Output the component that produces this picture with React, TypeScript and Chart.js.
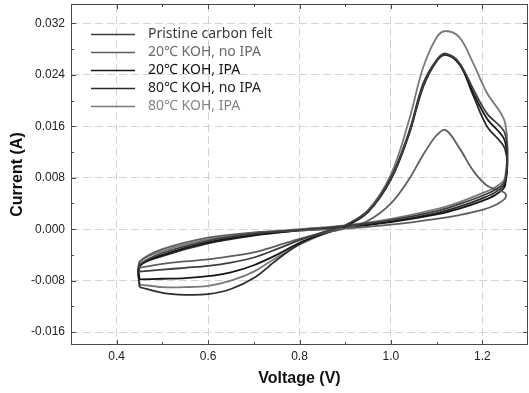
import React, { useEffect, useRef } from "react";
import { Chart, registerables } from "chart.js";

Chart.register(...registerables);

// ---- data ----
const seriesLabels = [
  "Pristine carbon felt",
  "20\u2103 KOH, no IPA",
  "20\u2103 KOH, IPA",
  "80\u2103 KOH, no IPA",
  "80\u2103 KOH, IPA",
];
const seriesColors = ["#3e3e3e", "#5e5e5e", "#161616", "#2c2c2c", "#7a7a7a"];
const legendTextColors = ["#3a3a3a", "#6a6a6a", "#111111", "#222222", "#858585"];

// anodic sweep (0.45 V -> 1.25 V)
const forwardVoltage = [0.45, 0.5, 0.55, 0.6, 0.65, 0.7, 0.75, 0.8, 0.85, 0.9, 0.95, 1.0, 1.04, 1.07, 1.1, 1.12, 1.15, 1.18, 1.21, 1.25];
// return sweep (1.25 V -> 0.45 V)
const reverseVoltage = [1.25, 1.23, 1.2, 1.15, 1.1, 1.0, 0.9, 0.8, 0.7, 0.6, 0.5, 0.45];

const pristineForward = [-0.0066, -0.0063, -0.006, -0.0057, -0.0052, -0.0044, -0.0031, -0.0017, -0.0005, 0.0006, 0.0028, 0.0078, 0.015, 0.0222, 0.0262, 0.0272, 0.0258, 0.0218, 0.018, 0.0148];
const pristineReverse = [0.0076, 0.0062, 0.0052, 0.0039, 0.0028, 0.0014, 0.0005, -0.0001, -0.0007, -0.0018, -0.0037, -0.0055];

const koh20NoIpaForward = [-0.006, -0.0054, -0.005, -0.0047, -0.0042, -0.0036, -0.0026, -0.0015, -0.0006, 0.0001, 0.0013, 0.004, 0.0078, 0.0115, 0.0146, 0.0154, 0.0126, 0.0091, 0.0068, 0.0056];
const koh20NoIpaReverse = [0.0048, 0.0038, 0.003, 0.0022, 0.0016, 0.0007, 0.0001, -0.0002, -0.0005, -0.0013, -0.0031, -0.005];

const koh20IpaForward = [-0.0078, -0.0077, -0.0076, -0.0073, -0.0067, -0.0056, -0.004, -0.0021, -0.0007, 0.0005, 0.0027, 0.0077, 0.0148, 0.022, 0.0261, 0.0271, 0.0256, 0.0212, 0.0172, 0.0136];
const koh20IpaReverse = [0.0068, 0.0054, 0.0044, 0.0032, 0.0023, 0.0011, 0.0003, -0.0002, -0.0009, -0.002, -0.004, -0.0057];

const koh80NoIpaForward = [-0.009, -0.0099, -0.0102, -0.0101, -0.0093, -0.0076, -0.0048, -0.0023, -0.0008, 0.0004, 0.0027, 0.008, 0.0152, 0.0225, 0.0263, 0.0273, 0.0258, 0.0208, 0.016, 0.0124];
const koh80NoIpaReverse = [0.0072, 0.0058, 0.0048, 0.0035, 0.0025, 0.0012, 0.0004, -0.0002, -0.001, -0.0022, -0.0042, -0.0058];

const koh80IpaForward = [-0.0086, -0.009, -0.009, -0.0088, -0.008, -0.0066, -0.0044, -0.0024, -0.0008, 0.0006, 0.003, 0.0085, 0.017, 0.025, 0.0298, 0.0308, 0.0298, 0.0258, 0.0212, 0.0165];
const koh80IpaReverse = [0.008, 0.0066, 0.0056, 0.0042, 0.0031, 0.0016, 0.0006, 0.0, -0.0006, -0.0016, -0.0034, -0.0052];

const forwardSets = [pristineForward, koh20NoIpaForward, koh20IpaForward, koh80NoIpaForward, koh80IpaForward];
const reverseSets = [pristineReverse, koh20NoIpaReverse, koh20IpaReverse, koh80NoIpaReverse, koh80IpaReverse];

// ---- axes ----
const xMajorTicks = [0.4, 0.6, 0.8, 1.0, 1.2];
const xMinorTicks = [0.5, 0.7, 0.9, 1.1];
const yMajorTicks = [-0.016, -0.008, 0.0, 0.008, 0.016, 0.024, 0.032];
const yMinorTicks = [-0.012, -0.004, 0.004, 0.012, 0.02, 0.028];

function buildLoop(fwd: number[], rev: number[]) {
  const pts: { x: number; y: number }[] = [];
  forwardVoltage.forEach((v, i) => pts.push({ x: v, y: fwd[i] }));
  reverseVoltage.forEach((v, i) => pts.push({ x: v, y: rev[i] }));
  pts.push({ x: forwardVoltage[0], y: fwd[0] });
  return pts;
}

const framePlugin = {
  id: "frameAndLegend",
  afterDraw(chart: any) {
    const { ctx, chartArea, scales } = chart;
    const { left, right, top, bottom } = chartArea;
    const xs = scales.x;
    const ys = scales.y;
    ctx.save();
    ctx.strokeStyle = "#4a4a4a";
    ctx.lineWidth = 1;
    ctx.setLineDash([]);
    ctx.strokeRect(Math.round(left) + 0.5, Math.round(top) + 0.5, Math.round(right - left) - 1, Math.round(bottom - top) - 1);
    const tick = (x1: number, y1: number, x2: number, y2: number) => {
      ctx.beginPath();
      ctx.moveTo(x1, y1);
      ctx.lineTo(x2, y2);
      ctx.stroke();
    };
    const drawX = (vals: number[], len: number) => {
      vals.forEach((v) => {
        const px = Math.round(xs.getPixelForValue(v)) + 0.5;
        tick(px, bottom, px, bottom - len);
        tick(px, top, px, top + len);
      });
    };
    const drawY = (vals: number[], len: number) => {
      vals.forEach((v) => {
        const py = Math.round(ys.getPixelForValue(v)) + 0.5;
        tick(left, py, left + len, py);
        tick(right, py, right - len, py);
      });
    };
    drawX(xMajorTicks, 5);
    drawX(xMinorTicks, 3);
    drawY(yMajorTicks, 5);
    drawY(yMinorTicks, 3);

    // legend
    ctx.font = '14px "Noto Sans", "Noto Sans CJK KR", sans-serif';
    ctx.textBaseline = "middle";
    ctx.textAlign = "left";
    seriesLabels.forEach((label, i) => {
      const yy = top + 30 + i * 18;
      ctx.strokeStyle = seriesColors[i];
      ctx.lineWidth = 1.3;
      tick(left + 20, yy + 0.5, left + 64, yy + 0.5);
      ctx.fillStyle = legendTextColors[i];
      ctx.fillText(label, left + 77, yy);
    });
    ctx.restore();
  },
};

export default function App() {
  const ref = useRef<HTMLCanvasElement | null>(null);
  useEffect(() => {
    document.body.style.margin = "0";
    if (!ref.current) return;
    const datasets = seriesLabels.map((label, i) => ({
      label,
      data: buildLoop(forwardSets[i], reverseSets[i]),
      borderColor: seriesColors[i],
      backgroundColor: seriesColors[i],
      borderWidth: 1.8,
      pointRadius: 0,
      showLine: true,
      fill: false,
      tension: 0.35,
    }));
    const chart = new Chart(ref.current, {
      type: "scatter",
      data: { datasets },
      options: {
        animation: false,
        responsive: false,
        layout: { padding: { top: 4, right: 1, left: 0, bottom: 0 } },
        plugins: { legend: { display: false }, tooltip: { enabled: false } },
        scales: {
          x: {
            type: "linear",
            min: 0.3,
            max: 1.3,
            afterBuildTicks: (s: any) => {
              s.ticks = xMajorTicks.map((v) => ({ value: v }));
            },
            afterFit: (s: any) => {
              s.height = 48;
              s.paddingLeft = 0;
              s.paddingRight = 0;
            },
            ticks: {
              callback: (v: any) => Number(v).toFixed(1),
              color: "#222",
              font: { family: "Liberation Sans, Arial, sans-serif", size: 12 },
              padding: 4,
              maxRotation: 0,
              autoSkip: false,
            },
            grid: { color: "#d4d4d4", lineWidth: 1, drawTicks: false },
            border: { display: false, dash: [8, 4] },
            title: {
              display: true,
              text: "Voltage (V)",
              color: "#111",
              font: { family: "Liberation Sans, Arial, sans-serif", size: 16, weight: "bold" },
              padding: { top: 0, bottom: 5 },
            },
          },
          y: {
            type: "linear",
            min: -0.018,
            max: 0.035,
            afterBuildTicks: (s: any) => {
              s.ticks = yMajorTicks.map((v) => ({ value: v }));
            },
            afterFit: (s: any) => {
              s.width = 71;
              s.paddingTop = 0;
              s.paddingBottom = 0;
            },
            ticks: {
              callback: (v: any) => Number(v).toFixed(3),
              color: "#222",
              font: { family: "Liberation Sans, Arial, sans-serif", size: 12 },
              padding: 6,
              autoSkip: false,
            },
            grid: { color: "#d4d4d4", lineWidth: 1, drawTicks: false },
            border: { display: false, dash: [8, 4] },
            title: {
              display: true,
              text: "Current (A)",
              color: "#111",
              font: { family: "Liberation Sans, Arial, sans-serif", size: 16, weight: "bold" },
              padding: { top: 8, bottom: 0 },
            },
          },
        },
      },
      plugins: [framePlugin],
    });
    return () => chart.destroy();
  }, []);
  return (
    <div style={{ width: 529, height: 393 }}>
      <canvas ref={ref} width={529} height={393} style={{ display: "block" }} />
    </div>
  );
}
